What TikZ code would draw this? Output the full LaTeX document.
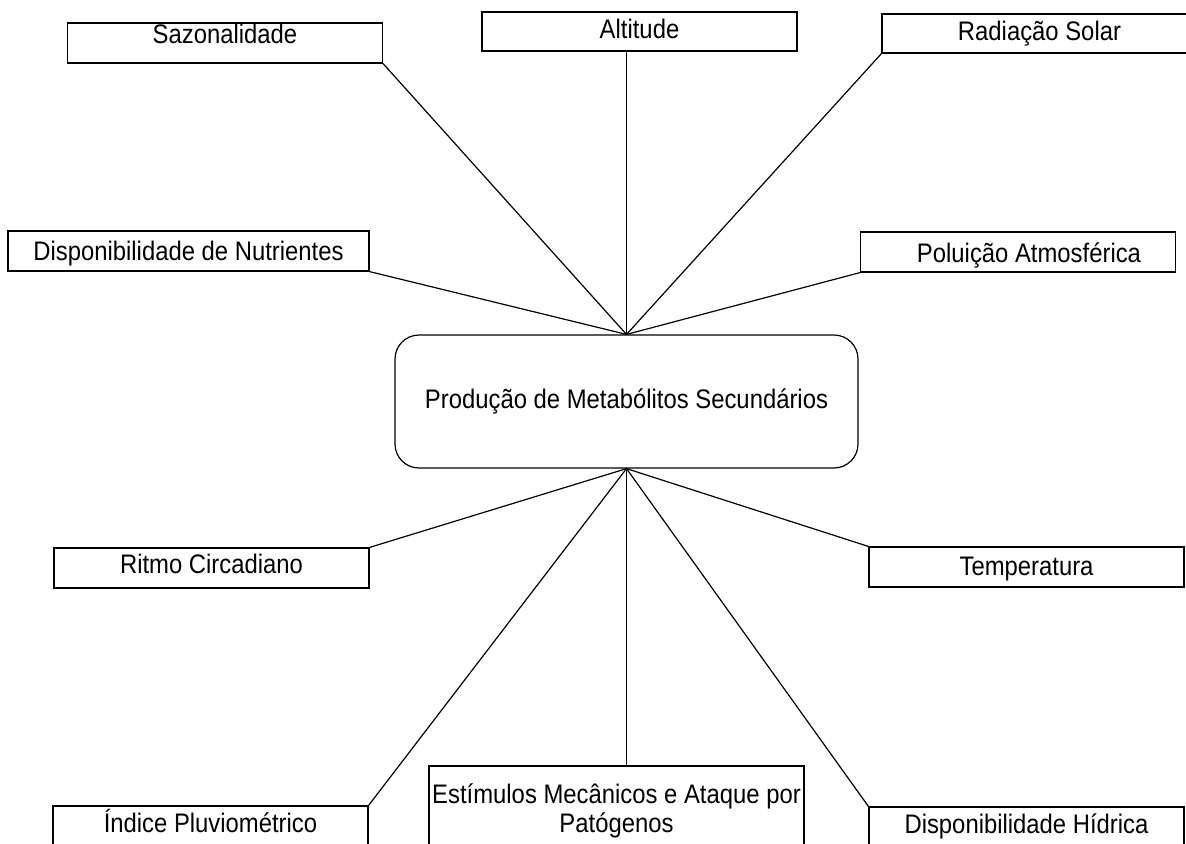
\documentclass[tikz,border=0pt]{standalone}
\usepackage{fontspec}
\setmainfont[FakeStretch=0.89]{Liberation Sans}
\tikzset{
  fator/.style={draw, inner sep=0pt, minimum width=157.5pt, minimum height=20pt,
    text height=13pt, text depth=7pt},
  central/.style={draw, rounded corners=12pt, inner sep=0pt,
    minimum width=231.5pt, minimum height=66.5pt}
}
\begin{document}
\begin{tikzpicture}[x=0.5pt,y=-0.5pt,line width=0.6pt,
  font=\fontsize{13.4pt}{14.5pt}\selectfont]
\useasboundingbox (0,0) rectangle (1186,843);
\clip (0,0) rectangle (1186,843);

\node[central] (centro) at (626.5,401.5) {Produção de Metabólitos Secundários};

% fatores de cima
\node[fator, text height=10pt, text depth=10pt] (sazonalidade) at (225,43) {Sazonalidade};
\node[fator, minimum height=19.5pt, text depth=6.5pt] (altitude) at (639.5,31.5) {Altitude};
\node[fator, minimum height=19.5pt, text depth=6.5pt] (radiacao) at (1039.5,33.5) {Radiação Solar};
\node[fator, minimum width=180.5pt, text height=14.5pt, text depth=5.5pt] (nutrientes) at (188.5,251) {Disponibilidade de Nutrientes};
\node[fator, text height=15pt, text depth=5pt] (poluicao) at (1018,252) {\hspace*{11pt}Poluição Atmosférica};

% fatores de baixo
\node[fator, text height=12.5pt, text depth=7.5pt] (ritmo) at (211.5,568) {Ritmo Circadiano};
\node[fator, text height=14pt, text depth=6pt] (temperatura) at (1026.5,567) {Temperatura};
\node[fator] (pluviometrico) at (210.5,826) {Índice Pluviométrico};
\node[fator, minimum width=187.5pt, minimum height=40pt, text height=33pt, text depth=7pt,
  align=center] (estimulos) at (616.5,806) {Estímulos Mecânicos e Ataque por\\Patógenos};
\node[fator] (hidrica) at (1026.5,827) {Disponibilidade Hídrica};

\draw (sazonalidade.south east) -- (centro.north);
\draw (centro.north) -- (centro.north |- altitude.south);
\draw (radiacao.south west) -- (centro.north);
\draw (nutrientes.south east) -- (centro.north);
\draw (poluicao.south west) -- (centro.north);

\draw (ritmo.north east) -- (centro.south);
\draw (temperatura.north west) -- (centro.south);
\draw (pluviometrico.north east) -- (centro.south);
\draw (centro.south) -- (centro.south |- estimulos.north);
\draw (hidrica.north west) -- (centro.south);
\end{tikzpicture}
\end{document}
